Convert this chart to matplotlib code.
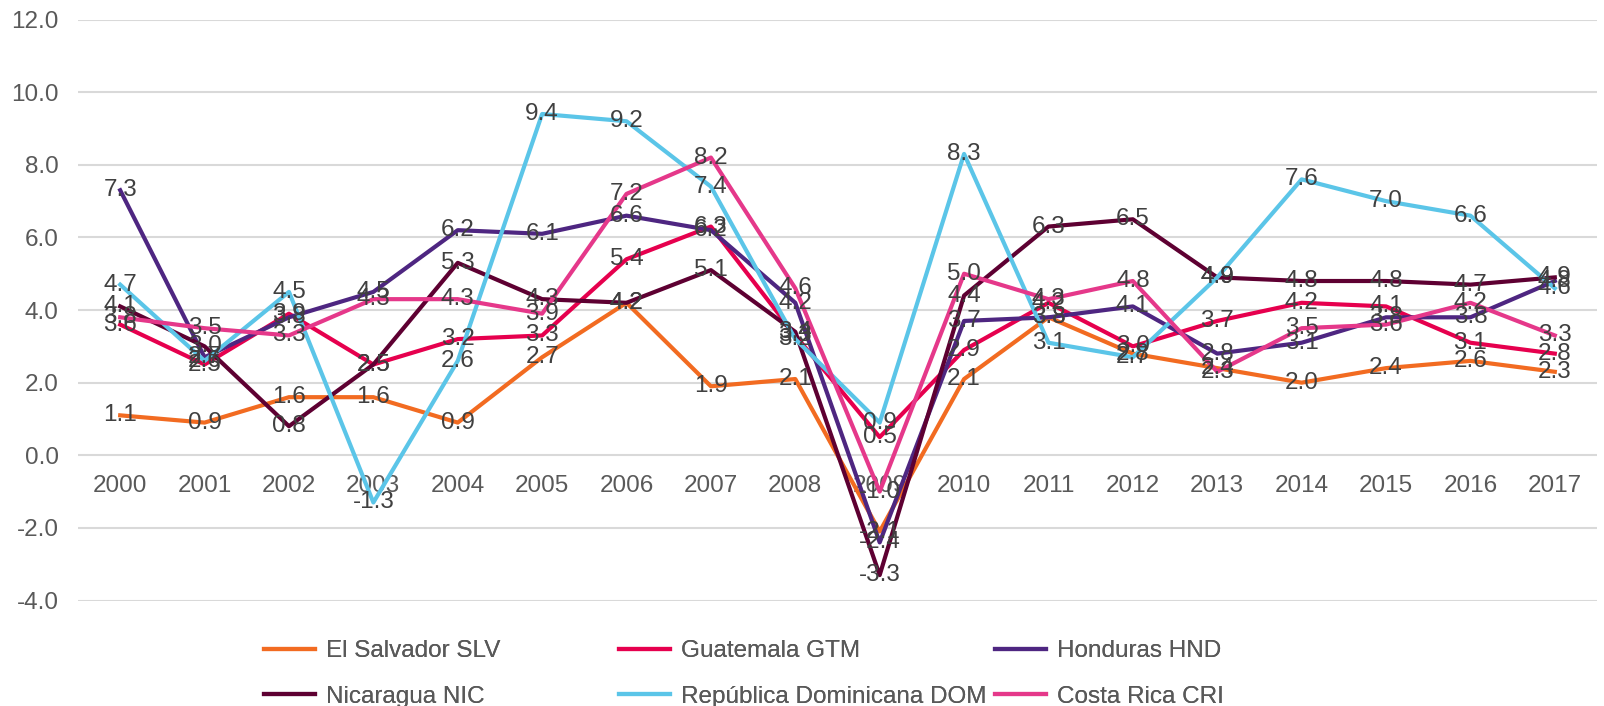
import matplotlib
matplotlib.use('Agg')
import matplotlib.pyplot as plt
from matplotlib import font_manager
import numpy as np

years = list(range(2000, 2018))

slv = [1.1, 0.9, 1.6, 1.6, 0.9, 2.7, 4.2, 1.9, 2.1, -2.1, 2.1, 3.8, 2.8, 2.4, 2.0, 2.4, 2.6, 2.3]
gtm = [3.6, 2.5, 3.9, 2.5, 3.2, 3.3, 5.4, 6.3, 3.3, 0.5, 2.9, 4.2, 3.0, 3.7, 4.2, 4.1, 3.1, 2.8]
hnd = [7.3, 2.7, 3.8, 4.5, 6.2, 6.1, 6.6, 6.2, 4.2, -2.4, 3.7, 3.8, 4.1, 2.8, 3.1, 3.8, 3.8, 4.8]
nic = [4.1, 3.0, 0.8, 2.5, 5.3, 4.3, 4.2, 5.1, 3.4, -3.3, 4.4, 6.3, 6.5, 4.9, 4.8, 4.8, 4.7, 4.9]
dom = [4.7, 2.6, 4.5, -1.3, 2.6, 9.4, 9.2, 7.4, 3.2, 0.9, 8.3, 3.1, 2.7, 4.9, 7.6, 7.0, 6.6, 4.6]
cri = [3.8, 3.5, 3.3, 4.3, 4.3, 3.9, 7.2, 8.2, 4.6, -1.0, 5.0, 4.3, 4.8, 2.3, 3.5, 3.6, 4.2, 3.3]

names = ['El Salvador SLV', 'Guatemala GTM', 'Honduras HND',
         'Nicaragua NIC', 'República Dominicana DOM', 'Costa Rica CRI']
series = [slv, gtm, hnd, nic, dom, cri]
colors = ['#F26B21', '#E6004E', '#4E2681', '#5E0032', '#5BC5E8', '#E5388A']

plt.rcParams['font.family'] = ['Liberation Sans', 'DejaVu Sans']

# narrow font for the legend if we have it
avail = {f.name for f in font_manager.fontManager.ttflist}
if 'Liberation Sans Narrow' in avail:
    legend_font, legend_size = 'Liberation Sans Narrow', 20
else:
    legend_font, legend_size = 'Liberation Sans', 17.5

fig = plt.figure(figsize=(16.04, 7.06), dpi=100)
ax = fig.add_axes([78 / 1604, 1 - 600.5 / 706, (1597 - 78) / 1604, (600.5 - 19.6) / 706])

x = np.arange(len(years))
lines = []
for vals, name, c in zip(series, names, colors):
    ln, = ax.plot(x, vals, color=c, lw=3.0, label=name, solid_joinstyle='round', zorder=3)
    lines.append(ln)

for vals in series:
    for xi, v in zip(x, vals):
        ax.text(xi, v, f'{v:.1f}', ha='center', va='center', fontsize=17.5,
                color='#404040', zorder=5)

ax.set_xlim(-0.5, len(years) - 0.5)
ax.set_ylim(-4, 12)
ax.set_yticks(np.arange(-4, 12.1, 2))
ax.set_yticklabels([f'{v:.1f}' for v in np.arange(-4, 12.1, 2)])
ax.set_xticks(x)
ax.set_xticklabels([str(y) for y in years])
ax.grid(axis='y', color='#D9D9D9', lw=1.5, zorder=0)
ax.set_axisbelow(True)
for s in ['top', 'right', 'left']:
    ax.spines[s].set_visible(False)
ax.spines['bottom'].set_position(('data', 0))
ax.spines['bottom'].set_visible(False)
ax.tick_params(axis='both', length=0, labelsize=17.5, colors='#595959')
ax.tick_params(axis='y', pad=14)
ax.tick_params(axis='x', pad=14)

# legend: 3 columns, 2 rows
cols = [(0, 3), (1, 4), (2, 5)]
col_x = [264, 619, 995]
for (a, b), cx in zip(cols, col_x):
    leg = fig.legend([lines[a], lines[b]], [names[a], names[b]],
                     loc='center left', bbox_to_anchor=(cx / 1604, 1 - 674 / 706),
                     frameon=False, borderpad=0, borderaxespad=0,
                     handlelength=2.1, handletextpad=0.45, labelspacing=0.95,
                     prop={'family': legend_font, 'size': legend_size}, labelcolor='#595959')
    fig.add_artist(leg)

fig.savefig('out.png', dpi=100)
